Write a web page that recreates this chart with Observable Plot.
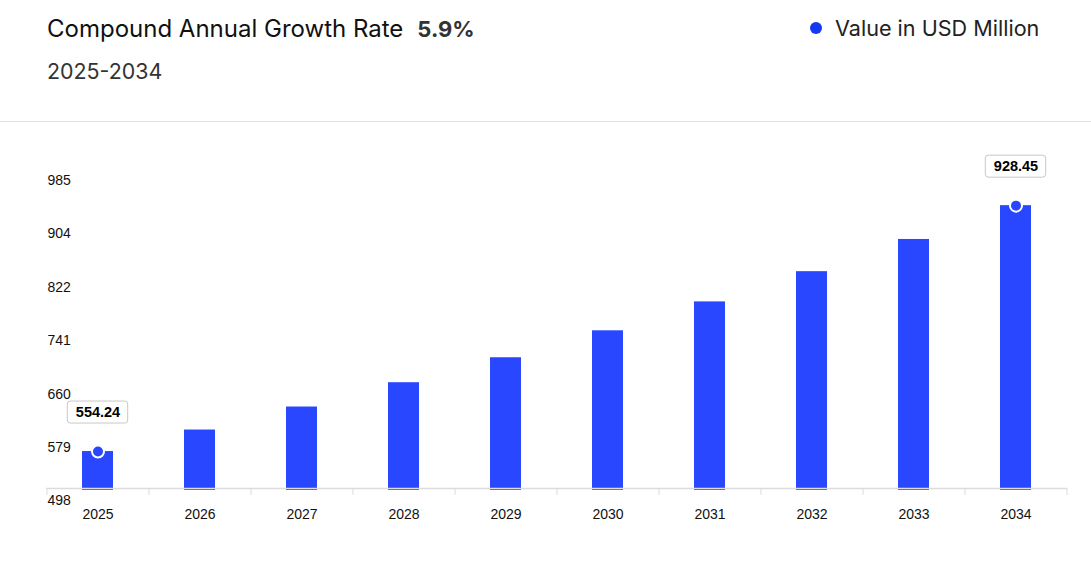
<!DOCTYPE html>
<html>
<head>
<meta charset="utf-8">
<script src="https://cdn.jsdelivr.net/npm/d3@7"></script>
<script src="https://cdn.jsdelivr.net/npm/@observablehq/plot@0.6"></script>
<style>
  html, body { margin: 0; padding: 0; background: #fff; }
  #wrap { width: 1091px; height: 562px; position: relative; overflow: hidden; }
  #header { position: relative; height: 121px; border-bottom: 1px solid #e3e3e3; font-family: Inter, "Noto Sans", sans-serif; }
  #title { position: absolute; left: 47px; top: 14px; font-size: 24px; color: #111; white-space: nowrap; }
  #title b { color: #333; font-weight: 700; margin-left: 14px; font-size: 22px; }
  #subtitle { position: absolute; left: 47px; top: 58px; font-size: 21.4px; color: #333; }
  #legend { position: absolute; left: 810px; top: 15px; font-size: 21.6px; color: #222; white-space: nowrap; display: flex; align-items: center; }
  #legend .dot { width: 12px; height: 12px; border-radius: 50%; background: #1238f2; margin-right: 13px; }
  #chart svg { display: block; }
</style>
</head>
<body>
<div id="wrap">
  <div id="header">
    <div id="title">Compound Annual Growth Rate<b>5.9%</b></div>
    <div id="subtitle">2025-2034</div>
    <div id="legend"><span class="dot"></span>Value in USD Million</div>
  </div>
  <div id="chart"></div>
</div>
<script>
const years = [2025, 2026, 2027, 2028, 2029, 2030, 2031, 2032, 2033, 2034];
const values = [554.24, 587, 622, 659, 697, 738, 782, 828, 877, 928.45];
const yTicks = [498, 579, 660, 741, 822, 904, 985];
const labeledYears = [2025, 2034];

const data = years.map((year, i) => ({year, value: values[i]}));
const labeled = data.filter(d => labeledYears.includes(d.year));
const barColor = "#2947ff";

const chart = Plot.plot({
  width: 1091,
  height: 440,
  marginLeft: 46,
  marginRight: 24,
  marginTop: 46,
  marginBottom: 74,
  style: {fontFamily: "'Liberation Sans', Arial, sans-serif", fontSize: "14px", color: "#111"},
  x: {domain: years, paddingInner: 0.7, paddingOuter: 0.35, axis: null},
  y: {domain: [498, 985], axis: null},
  marks: [
    Plot.barY(data, {x: "year", y1: 498, y2: "value", fill: barColor, insetBottom: -2}),
    Plot.ruleY([498], {stroke: "#dcdcdc", strokeWidth: 1.5}),
    Plot.ruleX(years, {x: d => d, y1: 498, y2: 498, insetBottom: -7, dx: -51, stroke: "#dcdcdc"}),
    Plot.ruleX([years[years.length - 1]], {x: d => d, y1: 498, y2: 498, insetBottom: -7, dx: 51, stroke: "#dcdcdc"}),
    Plot.text(yTicks, {y: d => d, text: d => String(d), frameAnchor: "left", textAnchor: "start", dx: 1, dy: 12, fill: "#111"}),
    Plot.text(years, {x: d => d, text: d => String(d), frameAnchor: "bottom", dy: 30, fill: "#111"}),
    Plot.dot(labeled, {x: "year", y: "value", r: 6, fill: barColor, stroke: "#fff", strokeWidth: 2}),
    Plot.barY(labeled, {x: "year", y1: "value", y2: "value", insetTop: -11, insetBottom: -11, insetLeft: -14.7, insetRight: -14.7, dy: -39, fill: "#fff", stroke: "#c8c8c8", strokeWidth: 1, rx: 3}),
    Plot.text(labeled, {x: "year", y: "value", text: d => d.value.toFixed(2), dy: -39, fontWeight: "bold", fontSize: 14.5, fill: "#000"})
  ]
});
document.getElementById("chart").appendChild(chart);
</script>
</body>
</html>
